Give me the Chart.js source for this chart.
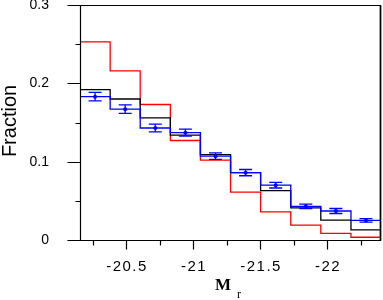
<!DOCTYPE html>
<html><head><meta charset="utf-8">
<script src="https://cdn.jsdelivr.net/npm/chart.js@4/dist/chart.umd.min.js"></script>
<style>html,body{margin:0;padding:0;background:#fff}#wrap{width:383px;height:300px}</style>
</head><body><div id="wrap"><canvas id="c" width="383" height="300"></canvas></div>
<script>
// ---- data ----
const binEdges = [-20.155, -20.380, -20.604, -20.829, -21.053, -21.278, -21.502, -21.727, -21.951, -22.176, -22.400];
const redFraction   = [0.253, 0.216, 0.173, 0.127, 0.102, 0.061, 0.036, 0.019, 0.0085, 0.0035];
const blackFraction = [0.192, 0.180, 0.156, 0.134, 0.109, 0.086, 0.063, 0.041, 0.0255, 0.013];
const blueFraction  = [0.183, 0.167, 0.143, 0.137, 0.107, 0.086, 0.070, 0.043, 0.037, 0.025];
const blueError     = [0.0054, 0.0054, 0.0049, 0.0045, 0.0042, 0.0040, 0.0036, 0.0028, 0.0032, 0.0023];
const xMajorTicks = [-20.5, -21, -21.5, -22];
const xTickLabels = ['-20.5', '-21', '-21.5', '-22'];
const xMinorTicks = [-20.25, -20.75, -21.25, -21.75, -22.25];
const yMajorTicks = [0, 0.1, 0.2, 0.3];
const yTickLabels = ['0', '0.1', '0.2', '0.3'];
const yMinorTicks = [0.05, 0.15, 0.25];
const xTitle = 'M';
const xTitleSub = 'r';
const yTitle = 'Fraction';

// ---- derived ----
const stepPoints = vals => binEdges.map((e, i) => ({x: e, y: vals[Math.min(i, vals.length - 1)]}));
const binCenters = vals => vals.map((v, i) => ({x: (binEdges[i] + binEdges[i + 1]) / 2, y: v}));

const decor = {
  id: 'decor',
  afterDatasetsDraw(chart) {
    const ctx = chart.ctx, xs = chart.scales.x, ys = chart.scales.y, a = chart.chartArea;
    ctx.save();
    // error bars
    ctx.strokeStyle = '#0000ff'; ctx.lineWidth = 1.3;
    blueFraction.forEach((v, i) => {
      const cx = xs.getPixelForValue((binEdges[i] + binEdges[i + 1]) / 2);
      const y1 = ys.getPixelForValue(v - blueError[i]);
      const y2 = ys.getPixelForValue(v + blueError[i]);
      ctx.beginPath();
      ctx.moveTo(cx, y1); ctx.lineTo(cx, y2);
      ctx.moveTo(cx - 6.5, y1); ctx.lineTo(cx + 6.5, y1);
      ctx.moveTo(cx - 6.5, y2); ctx.lineTo(cx + 6.5, y2);
      ctx.stroke();
    });
    // frame
    ctx.strokeStyle = '#000'; ctx.lineWidth = 1.2;
    const L = Math.round(a.left) + 0.5, R = Math.round(a.right) - 0.5, T = Math.round(a.top) + 0.5, B = Math.round(a.bottom) + 0.5;
    ctx.beginPath();
    ctx.moveTo(L, T); ctx.lineTo(R, T); ctx.lineTo(R, B); ctx.lineTo(L, B); ctx.closePath();
    ctx.stroke();
    ctx.lineWidth = 1.6;
    ctx.beginPath(); ctx.moveTo(R, T); ctx.lineTo(R, B); ctx.stroke();
    ctx.lineWidth = 1.2;
    // ticks
    ctx.beginPath();
    xMajorTicks.forEach(v => { const p = Math.round(xs.getPixelForValue(v)) + 0.5; ctx.moveTo(p, B); ctx.lineTo(p, B + 9); });
    xMinorTicks.forEach(v => { const p = Math.round(xs.getPixelForValue(v)) + 0.5; ctx.moveTo(p, B); ctx.lineTo(p, B + 5); });
    yMajorTicks.forEach(v => { const p = Math.round(ys.getPixelForValue(v)) + 0.5; ctx.moveTo(L, p); ctx.lineTo(L - 13, p); });
    yMinorTicks.forEach(v => { const p = Math.round(ys.getPixelForValue(v)) + 0.5; ctx.moveTo(L, p); ctx.lineTo(L - 5, p); });
    ctx.stroke();
    // x tick labels (slightly wide letter spacing as in the original)
    ctx.fillStyle = '#000';
    ctx.font = '15px "Liberation Sans", Arial, sans-serif';
    ctx.textAlign = 'center'; ctx.textBaseline = 'alphabetic';
    ctx.letterSpacing = '1.5px';
    xMajorTicks.forEach((v, i) => { ctx.fillText(xTickLabels[i], xs.getPixelForValue(v) + 0.75, 270.5); });
    ctx.letterSpacing = '0px';
    // titles
    ctx.font = '20px "Liberation Sans", Arial, sans-serif';
    ctx.save(); ctx.translate(16, 121); ctx.rotate(-Math.PI / 2); ctx.fillText(yTitle, 0, 0); ctx.restore();
    ctx.textAlign = 'left';
    ctx.font = 'bold 17px "Liberation Serif", "Times New Roman", serif';
    ctx.fillText(xTitle, 215, 290);
    ctx.font = '12px "Liberation Serif", "Times New Roman", serif';
    ctx.fillText(xTitleSub, 237, 298);
    ctx.restore();
  }
};

new Chart(document.getElementById('c'), {
  type: 'scatter',
  data: {
    datasets: [
      {data: binCenters(blueFraction), showLine: false, pointRadius: 2, pointHoverRadius: 2, backgroundColor: '#0000ff', borderColor: '#0000ff', borderWidth: 0},
      {data: stepPoints(blueFraction), showLine: true, stepped: 'before', pointRadius: 0, borderColor: '#0000ff', borderWidth: 1.3, fill: false},
      {data: stepPoints(blackFraction), showLine: true, stepped: 'before', pointRadius: 0, borderColor: '#000000', borderWidth: 1.3, fill: false},
      {data: stepPoints(redFraction), showLine: true, stepped: 'before', pointRadius: 0, borderColor: '#ff0000', borderWidth: 1.3, fill: false}
    ]
  },
  options: {
    responsive: false, animation: false, devicePixelRatio: 1,
    layout: {padding: {top: 5, right: 2, left: 0, bottom: 0}},
    plugins: {legend: {display: false}, tooltip: {enabled: false}},
    scales: {
      x: {
        type: 'linear', reverse: true, min: -22.40, max: -20.155,
        afterBuildTicks: ax => { ax.ticks = xMajorTicks.map(v => ({value: v})); },
        afterFit: ax => { ax.height = 60; ax.paddingLeft = 0; ax.paddingRight = 0; },
        ticks: {display: false},
        grid: {display: false, drawTicks: false}, border: {display: false}
      },
      y: {
        type: 'linear', min: 0, max: 0.3,
        afterBuildTicks: ax => { ax.ticks = yMajorTicks.map(v => ({value: v})); },
        afterFit: ax => { ax.width = 80; ax.paddingTop = 0; ax.paddingBottom = 0; },
        ticks: {callback: (v, i) => yTickLabels[i], color: '#000', padding: 31, autoSkip: false,
                font: {family: '"Liberation Sans", Arial, sans-serif', size: 14}},
        grid: {display: false, drawTicks: false}, border: {display: false}
      }
    }
  },
  plugins: [decor]
});
</script>
</body></html>
